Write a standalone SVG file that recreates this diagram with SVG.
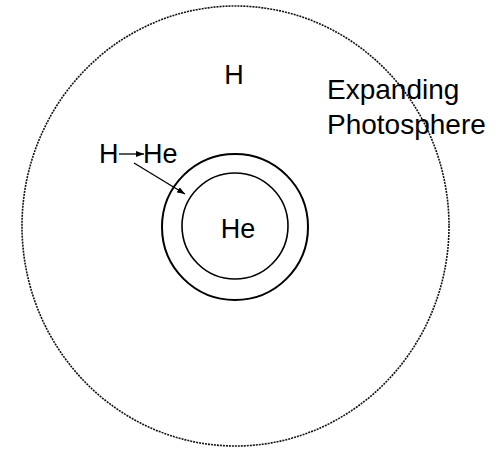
<svg xmlns="http://www.w3.org/2000/svg" width="495" height="450" viewBox="0 0 495 450">
<defs>
<style>
.t{font-family:"Liberation Sans",Arial,sans-serif;font-size:27px;fill:#000}
.big{font-size:28px}
.ring{fill:none;stroke:#000}
</style>
<marker id="ah" markerWidth="8" markerHeight="6" refX="8" refY="3" orient="auto" markerUnits="userSpaceOnUse">
<path d="M0,0 L8,3 L0,6 Z" fill="#000"/>
</marker>
</defs>
<rect width="495" height="450" fill="#fff"/>
<g id="photosphere">
<ellipse cx="235.5" cy="226" rx="213.5" ry="220" fill="none" stroke="#111" stroke-width="1.6" stroke-dasharray="2 1"/>
<text class="t" x="234" y="84" text-anchor="middle">H</text>
<text class="t big" x="327" y="99">Expanding</text>
<text class="t big" x="327" y="134">Photosphere</text>
</g>
<g id="shell">
<circle class="ring" cx="235" cy="227" r="73" stroke-width="2"/>
</g>
<g id="core">
<circle class="ring" cx="235" cy="226" r="53" stroke-width="1.6"/>
<text class="t" x="238" y="238" text-anchor="middle">He</text>
</g>
<g id="label">
<text class="t" x="99" y="163">H</text>
<text class="t" x="143" y="163">He</text>
</g>
<g id="connectors" stroke="#000" stroke-width="1.3" fill="none">
<line x1="119" y1="154" x2="144" y2="154" marker-end="url(#ah)"/>
<line x1="134" y1="163" x2="185" y2="194" marker-end="url(#ah)"/>
</g>
</svg>
